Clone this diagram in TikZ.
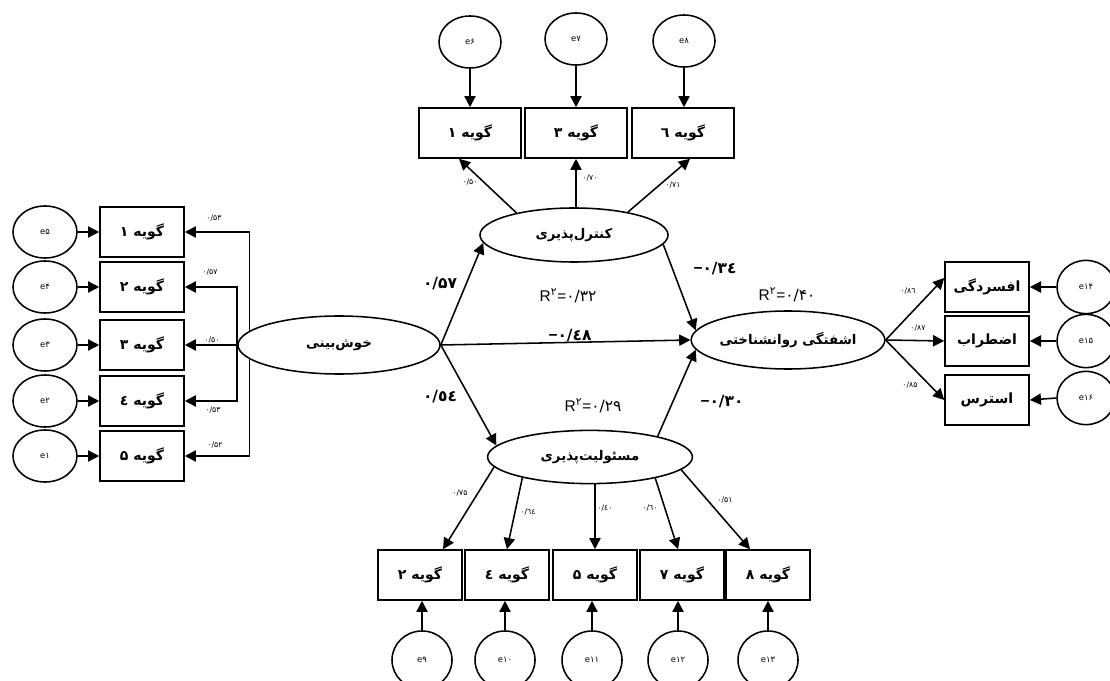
\documentclass[tikz,border=0pt]{standalone}
\usepackage{fontspec}
\setmainfont{Liberation Sans}
\newfontfamily\fa[Script=Arabic]{DejaVu Sans}
\TeXXeTstate=1
\usetikzlibrary{shapes.geometric}
\usetikzlibrary{arrows.meta}

\newcommand{\rtl}[1]{\beginR #1\endR}
\newcommand{\rsq}[1]{R\textsuperscript{\fa ۲}={\fa #1}}
\newcommand{\mn}{{\rmfamily −}}

\tikzset{
  item/.style={draw,line width=1.1pt,rectangle,minimum width=2.1cm,minimum height=1.25cm,inner sep=0pt,font=\fa\bfseries\fontsize{10}{12}\selectfont},
  err/.style={draw,line width=1.1pt,ellipse,minimum width=1.6cm,minimum height=1.3cm,inner sep=0pt,font=\fa\fontsize{6}{6}\selectfont},
  lat/.style={draw,line width=1.1pt,ellipse,fill=white,inner sep=0pt,font=\fa\bfseries\fontsize{9.5}{11}\selectfont},
  arr/.style={-{Triangle[length=2.8mm,width=2.8mm]},line width=1.1pt},
  load/.style={inner sep=0pt,font=\fa\fontsize{5.5}{6}\selectfont},
  coef/.style={inner sep=0pt,font=\fa\bfseries\fontsize{11}{12}\selectfont},
  rsq/.style={inner sep=0pt,font=\fontsize{11}{12}\selectfont}
}

\begin{document}
\begin{tikzpicture}[x=0.025cm,y=-0.025cm]
\useasboundingbox (0,0) rectangle (1110,681);

\node[err] (e5) at (45,232) {e۵};
\node[err] (e4) at (45,287) {e۴};
\node[err] (e3) at (45,345) {e۳};
\node[err] (e2) at (45,401) {e۲};
\node[err] (e1) at (45,456) {e۱};

\node[item] (l1) at (142,232) {\rtl{گویه ۱}};
\node[item] (l2) at (142,287) {\rtl{گویه ۲}};
\node[item] (l3) at (142,345) {\rtl{گویه ۳}};
\node[item] (l4) at (142,401) {\rtl{گویه ٤}};
\node[item] (l5) at (142,456) {\rtl{گویه ۵}};

\node[err,minimum width=1.55cm] (e6) at (470,42) {e۶};
\node[err,minimum width=1.55cm] (e7) at (576,39) {e۷};
\node[err,minimum width=1.55cm] (e8) at (684,41) {e۸};

\node[item,minimum width=2.55cm] (t1) at (470,133) {\rtl{گویه ۱}};
\node[item,minimum width=2.55cm] (t3) at (576,133) {\rtl{گویه ۳}};
\node[item,minimum width=2.55cm] (t6) at (683,133) {\rtl{گویه ٦}};

\node[lat,minimum width=5.05cm,minimum height=1.45cm] (kb) at (339,345) {\rtl{خوش‌بینی}};
\node[lat,minimum width=4.7cm,minimum height=1.35cm] (kp) at (574,235) {\rtl{کنترل‌پذیری}};
\node[lat,minimum width=5.12cm,minimum height=1.33cm] (ms) at (590,457) {\rtl{مسئولیت‌پذیری}};
\node[lat,minimum width=4.75cm,minimum height=1.45cm] (ash) at (788,340) {\rtl{اشفتگی روانشناختی}};

\node[item] (r1) at (987,287) {\rtl{افسردگی}};
\node[item] (r2) at (987,341) {\rtl{اضطراب}};
\node[item] (r3) at (987,400) {\rtl{استرس}};

\node[err,minimum width=1.45cm,minimum height=1.33cm] (e14) at (1086,287) {e۱۴};
\node[err,minimum width=1.45cm,minimum height=1.33cm] (e15) at (1086,341) {e۱۵};
\node[err,minimum width=1.45cm,minimum height=1.33cm] (e16) at (1086,398) {e۱۶};

\node[item] (b2) at (420,575) {\rtl{گویه ۲}};
\node[item] (b4) at (507,575) {\rtl{گویه ٤}};
\node[item] (b5) at (595,575) {\rtl{گویه ۵}};
\node[item] (b7) at (682,575) {\rtl{گویه ۷}};
\node[item] (b8) at (768,575) {\rtl{گویه ۸}};

\node[err,minimum width=1.5cm,minimum height=1.45cm] (e9) at (422,660) {e۹};
\node[err,minimum width=1.5cm,minimum height=1.45cm] (e10) at (505,660) {e۱۰};
\node[err,minimum width=1.5cm,minimum height=1.45cm] (e11) at (592,660) {e۱۱};
\node[err,minimum width=1.5cm,minimum height=1.45cm] (e12) at (678,660) {e۱۲};
\node[err,minimum width=1.5cm,minimum height=1.45cm] (e13) at (768,660) {e۱۳};

\draw[arr] (e5.east) -- (l1.west);
\draw[arr] (e4.east) -- (l2.west);
\draw[arr] (e3.east) -- (l3.west);
\draw[arr] (e2.east) -- (l4.west);
\draw[arr] (e1.east) -- (l5.west);

\draw[arr] (kb.171) |- (l1.east);
\draw[arr] (kb.west) |- (l2.east);
\draw[arr] (kb.west) -- (l3.east);
\draw[arr] (kb.west) |- (l4.east);
\draw[arr] (kb.189) |- (l5.east);

\draw[arr] (e6.south) -- (e6.south |- t1.north);
\draw[arr] (e7.south) -- (e7.south |- t3.north);
\draw[arr] (e8.south) -- (e8.south |- t6.north);

\draw[arr] (kp.159) -- ([xshift=-0.275cm]t1.south);
\draw[arr] (t3.south |- kp.north) -- (t3.south);
\draw[arr] (kp.23) -- ([xshift=0.175cm]t6.south);

\draw[arr] (kb.east) -- (kp.185);
\draw[arr] (kb.east) -- (ash.west);
\draw[arr] (kb.east) -- (ms.173);
\draw[arr] (kp.354) -- (ash.174);
\draw[arr] (ms.17) -- (ash.186);

\draw[arr] (ash.east) -- ([yshift=0.225cm]r1.west);
\draw[arr] (ash.east) -- (r2.west);
\draw[arr] (ash.east) -- (r3.west);
\draw[arr] (e14.west) -- (r1.east);
\draw[arr] (e15.west) -- (r2.east);
\draw[arr] (e16.west) -- (r3.east);

\draw[arr] (ms.186) -- ([xshift=0.575cm]b2.north);
\draw[arr] (ms.197) -- (b4.north);
\draw[arr] (b5.north |- ms.south) -- (b5.north);
\draw[arr] (ms.342) -- ([xshift=-0.1cm]b7.north);
\draw[arr] (ms.352) -- ([xshift=-0.45cm]b8.north);

\draw[arr] (e9.north) -- (e9.north |- b2.south);
\draw[arr] (e10.north) -- (e10.north |- b4.south);
\draw[arr] (e11.north) -- (e11.north |- b5.south);
\draw[arr] (e12.north) -- (e12.north |- b7.south);
\draw[arr] (e13.north) -- (e13.north |- b8.south);

\node[load] (w1) at (214,218) {۰/۵۳};
\node[load] (w2) at (210,272) {۰/۵۷};
\node[load] (w3) at (212,340) {۰/۵۰};
\node[load] (w4) at (213,410) {۰/۵۳};
\node[load] (w5) at (215,445) {۰/۵۲};

\node[load] (w6) at (470,182) {۰/۵۰};
\node[load] (w7) at (590,178) {۰/۷۰};
\node[load] (w8) at (673,185) {۰/۷۱};

\node[coef] (c1) at (440,284) {۰/۵۷};
\node[coef] (c2) at (440,397) {٠/٥٤};
\node[coef] (c3) at (570,336) {\mn٠/٤٨};
\node[coef] (c4) at (715,269) {\mn٠/٣٤};
\node[coef] (c5) at (722,402) {\mn۰/۳۰};

\node[rsq] (q1) at (568,296) {\rsq{۰/۳۲}};
\node[rsq] (q2) at (593,406) {\rsq{۰/۲۹}};
\node[rsq] (q3) at (787,295) {\rsq{۰/۴۰}};

\node[load] (w9) at (908,291) {٠/٨٦};
\node[load] (w10) at (918,328) {۰/۸۷};
\node[load] (w11) at (910,385) {۰/۸۵};

\node[load] (w12) at (460,493) {۰/۷۵};
\node[load] (w13) at (528,512) {٠/٦٤};
\node[load] (w14) at (605,508) {٠/٤٠};
\node[load] (w15) at (650,508) {٠/٦٠};
\node[load] (w16) at (725,500) {۰/۵۱};

\end{tikzpicture}
\end{document}
